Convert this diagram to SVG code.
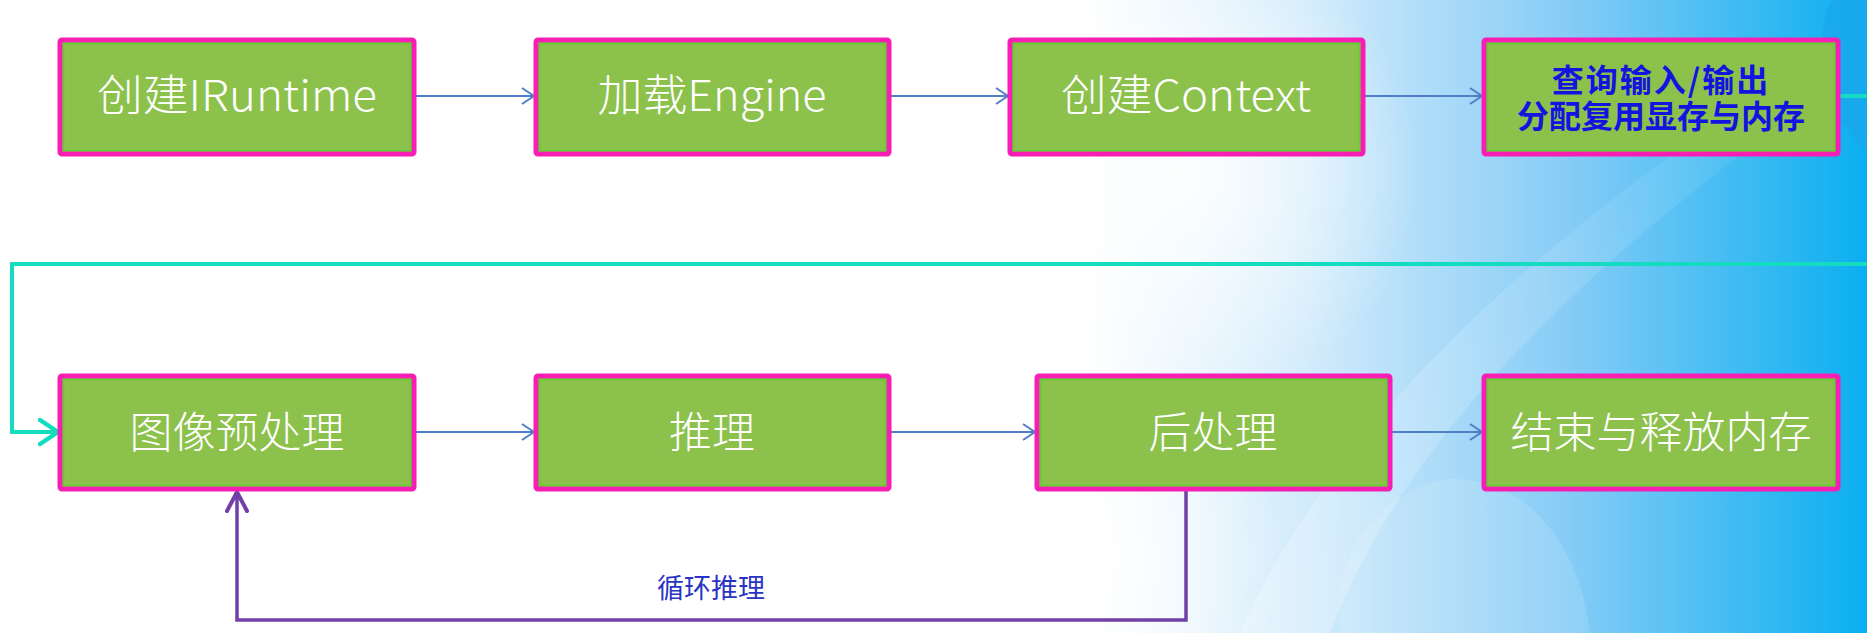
<svg xmlns="http://www.w3.org/2000/svg" width="1867" height="633" viewBox="0 0 1867 633">
<defs>
<style>
.box{fill:#8cc14c;stroke:#f81eb4;stroke-width:5}
.inner{fill:none;stroke:#5fd030;stroke-width:1.5}
.t{font-family:"Noto Sans CJK SC","Noto Sans",sans-serif;font-size:43px;font-weight:300;fill:#ffffff;text-anchor:middle}
.tb{font-family:"Noto Sans CJK SC","Noto Sans",sans-serif;font-size:32px;font-weight:bold;fill:#1414e0;text-anchor:middle}
.flow{fill:none;stroke:#4f7ec6;stroke-width:2}
.cyan{fill:none;stroke:#14dcc0;stroke-width:4}
.purple{fill:none;stroke:#7040a8;stroke-width:3.5}
.lbl{font-family:"Noto Sans CJK SC","Noto Sans",sans-serif;font-size:27px;fill:#2a34c4;text-anchor:middle}
</style>
<marker id="ab" markerUnits="userSpaceOnUse" markerWidth="16" markerHeight="20" refX="13" refY="9" orient="auto">
<path d="M1,1 L13,9 L1,17" fill="none" stroke="#4f7ec6" stroke-width="2"/>
</marker>
<marker id="ac" markerUnits="userSpaceOnUse" markerWidth="24" markerHeight="30" refX="20" refY="14" orient="auto">
<path d="M2,2 L20,14 L2,26" fill="none" stroke="#14dcc0" stroke-width="4.5" stroke-linecap="round"/>
</marker>
<marker id="ap" markerUnits="userSpaceOnUse" markerWidth="24" markerHeight="28" refX="21" refY="12" orient="auto">
<path d="M2,2 L21,12 L2,22" fill="none" stroke="#7040a8" stroke-width="4" stroke-linecap="round"/>
</marker>
<linearGradient id="bgH" x1="0" y1="0" x2="1" y2="0">
<stop offset="0" stop-color="#ffffff"/>
<stop offset="0.58" stop-color="#ffffff"/>
<stop offset="0.7" stop-color="#d2ebfb"/>
<stop offset="0.84" stop-color="#86ccf6"/>
<stop offset="1" stop-color="#0aaff0"/>
</linearGradient>
<radialGradient id="glow" cx="1180" cy="170" r="240" gradientUnits="userSpaceOnUse">
<stop offset="0" stop-color="#ffffff" stop-opacity="0.9"/>
<stop offset="1" stop-color="#ffffff" stop-opacity="0"/>
</radialGradient>
<radialGradient id="glow2" cx="1050" cy="560" r="230" gradientUnits="userSpaceOnUse">
<stop offset="0" stop-color="#ffffff" stop-opacity="1"/>
<stop offset="1" stop-color="#ffffff" stop-opacity="0"/>
</radialGradient>
<linearGradient id="streak" x1="0" y1="1" x2="1" y2="0">
<stop offset="0" stop-color="#ffffff" stop-opacity="0.5"/>
<stop offset="1" stop-color="#ffffff" stop-opacity="0.1"/>
</linearGradient>
</defs>
<g id="background">
<rect x="0" y="0" width="1867" height="633" fill="url(#bgH)"/>
<rect x="0" y="0" width="1867" height="633" fill="url(#glow)"/>
<rect x="0" y="0" width="1867" height="633" fill="url(#glow2)"/>
<path d="M1240,633 C1330,430 1520,260 1720,120 L1760,140 C1560,290 1400,450 1330,633 Z" fill="url(#streak)" opacity="0.5"/>
<path d="M1340,633 C1330,560 1370,500 1440,480 C1520,470 1580,540 1590,633 Z" fill="#ffffff" opacity="0.12"/>
<path d="M1867,0 L1832,0 C1812,40 1818,110 1867,150 Z" fill="#1aa8ec" opacity="0.85"/>
</g>
<g id="connectors">
<path class="flow" d="M414,96 L534,96" marker-end="url(#ab)"/>
<path class="flow" d="M889,96 L1008,96" marker-end="url(#ab)"/>
<path class="flow" d="M1363,96 L1482,96" marker-end="url(#ab)"/>
<path class="flow" d="M414,432 L534,432" marker-end="url(#ab)"/>
<path class="flow" d="M889,432 L1035,432" marker-end="url(#ab)"/>
<path class="flow" d="M1390,432 L1482,432" marker-end="url(#ab)"/>
<path class="cyan" d="M1838,96 L1880,96 L1880,264 L12,264 L12,432 L58,432" marker-end="url(#ac)"/>
<path class="purple" d="M1186,489 L1186,620 L237,620 L237,492" marker-end="url(#ap)"/>
<text class="lbl" x="711" y="598">循环推理</text>
</g>
<g id="n1"><rect class="box" x="60" y="40" width="354" height="114" rx="2"/><rect class="inner" x="63.5" y="43.5" width="347" height="107"/><text class="t" x="237" y="111" textLength="280" lengthAdjust="spacingAndGlyphs">创建IRuntime</text></g>
<g id="n2"><rect class="box" x="536" y="40" width="353" height="114" rx="2"/><rect class="inner" x="539.5" y="43.5" width="346" height="107"/><text class="t" x="712" y="111" textLength="229" lengthAdjust="spacingAndGlyphs">加载Engine</text></g>
<g id="n3"><rect class="box" x="1010" y="40" width="353" height="114" rx="2"/><rect class="inner" x="1013.5" y="43.5" width="346" height="107"/><text class="t" x="1186" y="111" textLength="250" lengthAdjust="spacingAndGlyphs">创建Context</text></g>
<g id="n4"><rect class="box" x="1484" y="40" width="354" height="114" rx="2"/><rect class="inner" x="1487.5" y="43.5" width="347" height="107"/><text class="tb"><tspan x="1661" y="92" letter-spacing="2">查询输入/输出</tspan><tspan x="1661" y="128">分配复用显存与内存</tspan></text></g>
<g id="n5"><rect class="box" x="60" y="376" width="354" height="113" rx="2"/><rect class="inner" x="63.5" y="379.5" width="347" height="106"/><text class="t" x="237" y="448">图像预处理</text></g>
<g id="n6"><rect class="box" x="536" y="376" width="353" height="113" rx="2"/><rect class="inner" x="539.5" y="379.5" width="346" height="106"/><text class="t" x="712" y="448">推理</text></g>
<g id="n7"><rect class="box" x="1037" y="376" width="353" height="113" rx="2"/><rect class="inner" x="1040.5" y="379.5" width="346" height="106"/><text class="t" x="1213" y="448">后处理</text></g>
<g id="n8"><rect class="box" x="1484" y="376" width="354" height="113" rx="2"/><rect class="inner" x="1487.5" y="379.5" width="347" height="106"/><text class="t" x="1661" y="448">结束与释放内存</text></g>
</svg>
